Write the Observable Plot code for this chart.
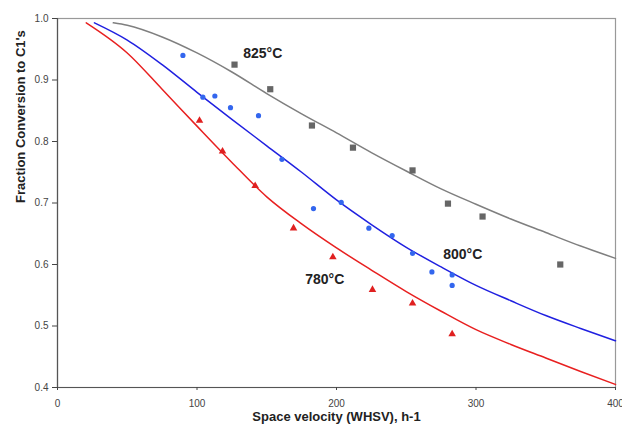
<!DOCTYPE html>
<html>
<head>
<meta charset="utf-8">
<script src="https://cdn.jsdelivr.net/npm/d3@7"></script>
<script src="https://cdn.jsdelivr.net/npm/@observablehq/plot@0.6"></script>
<style>
  body { margin: 0; background: #fff; }
  #chart { width: 622px; height: 424px; }
  svg { font-family: "Liberation Sans", Arial, sans-serif; }
</style>
</head>
<body>
<div id="chart"></div>
<script>
// Measured data points (WHSV h-1, fraction conversion)
const pts825x = [126.9, 152.5, 182.4, 211.8, 254.5, 279.9, 304.7, 360.4];
const pts825y = [0.925, 0.885, 0.826, 0.790, 0.753, 0.699, 0.678, 0.600];

const pts800x = [89.9, 104.2, 112.8, 124.0, 144.1, 160.9, 183.5, 203.4, 223.2, 239.9, 254.5, 268.4, 282.9, 282.9];
const pts800y = [0.940, 0.872, 0.874, 0.855, 0.842, 0.771, 0.691, 0.701, 0.659, 0.647, 0.618, 0.588, 0.583, 0.566];

const pts780x = [101.8, 118.3, 141.7, 169.2, 197.4, 225.8, 254.5, 282.9];
const pts780y = [0.834, 0.784, 0.728, 0.659, 0.612, 0.559, 0.537, 0.487];

// Model curves
const fit825x = [40, 50, 75, 100, 125, 150, 175, 200, 225, 250, 275, 300, 325, 350, 375, 400];
const fit825y = [0.993, 0.989, 0.970, 0.944, 0.913, 0.878, 0.845, 0.814, 0.782, 0.752, 0.723, 0.698, 0.674, 0.652, 0.630, 0.610];

const fit800x = [26.5, 50, 75, 100, 125, 150, 175, 200, 225, 250, 275, 300, 325, 350, 375, 400];
const fit800y = [0.993, 0.965, 0.925, 0.880, 0.836, 0.793, 0.750, 0.705, 0.665, 0.628, 0.596, 0.566, 0.541, 0.517, 0.496, 0.476];

const fit780x = [20.6, 50, 75, 100, 125, 150, 175, 200, 225, 250, 275, 300, 325, 350, 375, 400];
const fit780y = [0.993, 0.944, 0.885, 0.825, 0.766, 0.710, 0.666, 0.627, 0.591, 0.556, 0.524, 0.494, 0.470, 0.448, 0.426, 0.405];

const labelText = ["825°C", "800°C", "780°C"];
const labelX = [133.1, 276.5, 177.6];
const labelY = [0.943, 0.617, 0.576];

const xTicks = [0, 100, 200, 300, 400];
const yTicks = [0.4, 0.5, 0.6, 0.7, 0.8, 0.9, 1.0];

const zip = (xs, ys) => xs.map((x, i) => ({x, y: ys[i]}));
const labels = labelText.map((t, i) => ({t, x: labelX[i], y: labelY[i]}));

const chart = Plot.plot({
  width: 622,
  height: 424,
  marginLeft: 57,
  marginRight: 7,
  marginTop: 18,
  marginBottom: 37,
  style: {fontFamily: "Liberation Sans, Arial, sans-serif", background: "#fff"},
  x: {domain: [0, 400]},
  y: {domain: [0.4, 1.0]},
  marks: [
    Plot.frame({stroke: "#999", strokeWidth: 1.2}),
    Plot.ruleX([0], {stroke: "#555", strokeWidth: 1.2}),
    Plot.ruleY([0.4], {stroke: "#555", strokeWidth: 1.2}),
    Plot.axisY({ticks: yTicks, tickFormat: d3.format(".1f"), tickSize: 5, tickPadding: 4, fontSize: 10, color: "#444", label: null}),
    Plot.axisX({ticks: xTicks, tickSize: 3, tickPadding: 9, fontSize: 10, color: "#444", label: null}),
    Plot.line(zip(fit825x, fit825y), {x: "x", y: "y", stroke: "#7f7f7f", strokeWidth: 1.5, curve: "monotone-x"}),
    Plot.line(zip(fit800x, fit800y), {x: "x", y: "y", stroke: "#2020e0", strokeWidth: 1.5, curve: "monotone-x"}),
    Plot.line(zip(fit780x, fit780y), {x: "x", y: "y", stroke: "#e82020", strokeWidth: 1.5, curve: "monotone-x"}),
    Plot.dot(zip(pts825x, pts825y), {x: "x", y: "y", symbol: "square", r: 3.5, fill: "#666", stroke: "none"}),
    Plot.dot(zip(pts800x, pts800y), {x: "x", y: "y", symbol: "circle", r: 2.6, fill: "#3366ee", stroke: "none"}),
    Plot.dot(zip(pts780x, pts780y), {x: "x", y: "y", symbol: "triangle", r: 2.8, fill: "#e02020", stroke: "none"}),
    Plot.text(labels, {x: "x", y: "y", text: "t", textAnchor: "start", fontSize: 14, fontWeight: "bold", fill: "#222"}),
    Plot.text(["Space velocity (WHSV), h-1"], {frameAnchor: "bottom", dy: 33, fontSize: 13, fontWeight: "bold", fill: "#222", lineAnchor: "bottom"}),
    Plot.text(["Fraction Conversion to C1's"], {frameAnchor: "left", dx: -37, rotate: -90, fontSize: 13, fontWeight: "bold", fill: "#222"})
  ]
});
document.getElementById("chart").appendChild(chart);
</script>
</body>
</html>
